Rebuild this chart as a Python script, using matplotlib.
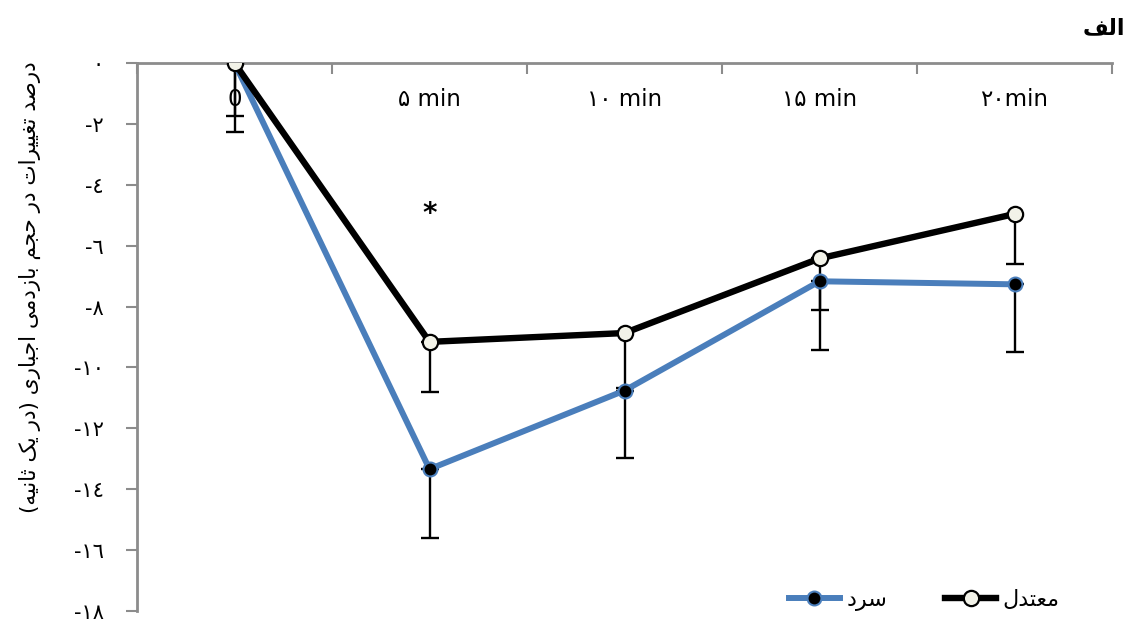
import matplotlib
matplotlib.use("Agg")
import matplotlib.pyplot as plt
from matplotlib.lines import Line2D

plt.rcParams['font.family'] = ['DejaVu Sans']

# data
time_labels = ["0", "۵ min", "۱۰ min", "۱۵ min", "۲۰min"]
moderate = [0, -9.16, -8.87, -6.42, -4.96]
moderate_err = [1.73, 1.66, 1.8, 1.70, 1.63]
cold = [0, -13.34, -10.76, -7.17, -7.27]
cold_err = [2.25, 2.25, 2.22, 2.25, 2.22]
y_ticks = [0, -2, -4, -6, -8, -10, -12, -14, -16, -18]
y_tick_labels = ["۰", "-۲", "-٤", "-٦", "-۸", "-۱۰", "-۱۲", "-۱٤", "-۱٦", "-۱۸"]

label_moderate = "معتدل"
label_cold = "سرد"
panel_title = "الف"
y_title = "درصد تغییرات در حجم بازدمی اجباری (در یک ثانیه)"

# minimal arabic/persian shaping (isolated, final, initial, medial)
FORMS = {
    'ا': ('\uFE8D', '\uFE8E', None, None),
    'ب': ('\uFE8F', '\uFE90', '\uFE91', '\uFE92'),
    'ت': ('\uFE95', '\uFE96', '\uFE97', '\uFE98'),
    'ث': ('\uFE99', '\uFE9A', '\uFE9B', '\uFE9C'),
    'ج': ('\uFE9D', '\uFE9E', '\uFE9F', '\uFEA0'),
    'ح': ('\uFEA1', '\uFEA2', '\uFEA3', '\uFEA4'),
    'د': ('\uFEA9', '\uFEAA', None, None),
    'ر': ('\uFEAD', '\uFEAE', None, None),
    'ز': ('\uFEAF', '\uFEB0', None, None),
    'س': ('\uFEB1', '\uFEB2', '\uFEB3', '\uFEB4'),
    'ص': ('\uFEB9', '\uFEBA', '\uFEBB', '\uFEBC'),
    'ع': ('\uFEC9', '\uFECA', '\uFECB', '\uFECC'),
    'غ': ('\uFECD', '\uFECE', '\uFECF', '\uFED0'),
    'ف': ('\uFED1', '\uFED2', '\uFED3', '\uFED4'),
    'ل': ('\uFEDD', '\uFEDE', '\uFEDF', '\uFEE0'),
    'م': ('\uFEE1', '\uFEE2', '\uFEE3', '\uFEE4'),
    'ن': ('\uFEE5', '\uFEE6', '\uFEE7', '\uFEE8'),
    'ه': ('\uFEE9', '\uFEEA', '\uFEEB', '\uFEEC'),
    'ی': ('\uFBFC', '\uFBFD', '\uFBFE', '\uFBFF'),
    'ک': ('\uFB8E', '\uFB8F', '\uFB90', '\uFB91'),
}


def rtl(text):
    out = []
    for i, ch in enumerate(text):
        forms = FORMS.get(ch)
        if forms is None:
            out.append(ch)
            continue
        prev = text[i - 1] if i > 0 else ''
        nxt = text[i + 1] if i + 1 < len(text) else ''
        join_prev = prev in FORMS and FORMS[prev][2] is not None
        join_next = forms[2] is not None and nxt in FORMS
        if join_prev and join_next:
            out.append(forms[3])
        elif join_prev:
            out.append(forms[1])
        elif join_next:
            out.append(forms[2])
        else:
            out.append(forms[0])
    vis = ''.join(reversed(out))
    return vis.translate(str.maketrans('()', ')('))


blue = '#4a7ebb'
axis_gray = '#8c8c8c'
x = list(range(len(time_labels)))

fig = plt.figure(figsize=(11.31, 6.21), dpi=100)
ax = fig.add_axes([137 / 1131, 10 / 621, 975 / 1131, 548 / 621])

# error bars (downward only)
ax.errorbar(x, moderate, yerr=[moderate_err, [0] * len(x)], fmt='none',
            ecolor='black', elinewidth=1.7, capsize=6.5, capthick=1.7, zorder=1)
ax.errorbar(x, cold, yerr=[cold_err, [0] * len(x)], fmt='none',
            ecolor='black', elinewidth=1.7, capsize=6.5, capthick=1.7, zorder=1)

ax.plot(x, cold, color=blue, lw=4.3, marker='o', ms=10, mfc='black', mec=blue,
        mew=1.5, zorder=3)
ax.plot(x, moderate, color='black', lw=4.6, marker='o', ms=11, mfc='#f2f2e8',
        mec='black', mew=1.6, zorder=4)

ax.set_xlim(-0.5, len(x) - 0.5)
ax.set_ylim(-18, 0)

# category axis sits on the top spine
ax.set_xticks([i - 0.5 for i in range(len(x) + 1)])
ax.set_xticklabels([])
ax.xaxis.set_ticks_position('top')
ax.tick_params(axis='x', direction='in', length=8, width=1.5, color=axis_gray)
for i, lab in enumerate(time_labels):
    ax.text(i, -1.2, lab, ha='center', va='center', fontsize=16.5, color='black')

ax.set_yticks(y_ticks)
ax.set_yticklabels(y_tick_labels, fontsize=15)
ax.tick_params(axis='y', direction='out', length=8, width=1.5, color=axis_gray, pad=16)

for side in ['bottom', 'right']:
    ax.spines[side].set_visible(False)
for side in ['top', 'left']:
    ax.spines[side].set_color(axis_gray)
    ax.spines[side].set_linewidth(2)

# significance marker
ax.text(1, -4.96, '*', ha='center', va='center', fontsize=20, fontweight='bold')

handles = [
    Line2D([], [], color=blue, lw=4.3, marker='o', ms=10, mfc='black', mec=blue, mew=1.5),
    Line2D([], [], color='black', lw=4.6, marker='o', ms=11, mfc='#f2f2e8', mec='black', mew=1.6),
]
ax.legend(handles, [rtl(label_cold), rtl(label_moderate)], ncol=2, frameon=False,
          loc='center right', bbox_to_anchor=(0.967, 0.02), fontsize=16,
          handlelength=2.3, handletextpad=0.3, columnspacing=2.6)

fig.text(30 / 1131, 1 - 287 / 621, rtl(y_title), rotation=90, ha='center',
         va='center', fontsize=15.5)
fig.text(1125 / 1131, 1 - 28 / 621, rtl(panel_title), ha='right', va='center',
         fontsize=16, fontweight='bold')

fig.savefig('out.png', dpi=100)
